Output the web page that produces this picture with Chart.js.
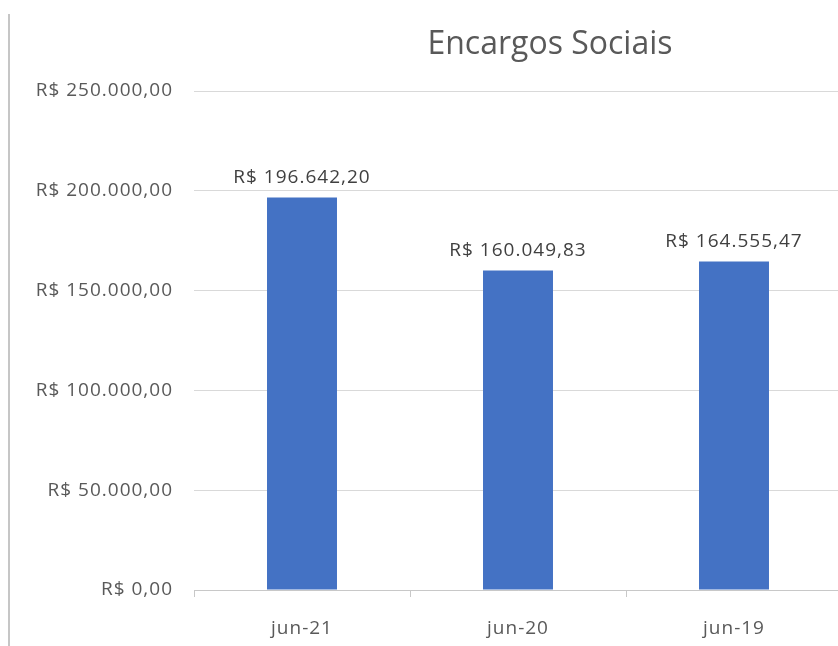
<!DOCTYPE html>
<html>
<head>
<meta charset="utf-8">
<script src="https://cdn.jsdelivr.net/npm/chart.js@4.4.0/dist/chart.umd.min.js"></script>
<style>
  html, body { margin: 0; padding: 0; background: #fff; overflow: hidden; }
  #wrap { position: relative; width: 838px; height: 646px; overflow: hidden; }
  #edge { position: absolute; left: 8px; top: 14px; width: 2px; height: 632px; background: #c6c6c6; }
  #myChart { position: absolute; left: 0; top: 0; }
</style>
</head>
<body>
<div id="wrap">
  <div id="edge"></div>
  <canvas id="myChart" width="842" height="646"></canvas>
</div>
<script>
let periods = ['jun-21', 'jun-20', 'jun-19'];
let encargos = [196642.20, 160049.83, 164555.47];
let yTickValues = [0, 50000, 100000, 150000, 200000, 250000];

const textColor = '#595959';
const smallFont = { family: '"Open Sans"', size: 19 };

function brl(v) {
    let parts = v.toFixed(2).split('.');
    let intPart = parts[0].replace(/\B(?=(\d{3})+(?!\d))/g, '.');
    return 'R$ ' + intPart + ',' + parts[1];
}

// Excel text is a bit wider than Open Sans, open it up slightly
const spacing = {
    id: 'spacing',
    beforeLayout(chart) { chart.ctx.letterSpacing = '1px'; },
    beforeDraw(chart) { chart.ctx.letterSpacing = '1px'; }
};

// title drawn where Excel puts it (centered on the whole chart area, not the canvas)
const titlePlugin = {
    id: 'titlePlugin',
    afterDraw(chart) {
        const ctx = chart.ctx;
        ctx.save();
        ctx.letterSpacing = '0px';
        ctx.fillStyle = textColor;
        ctx.font = '32px "Open Sans"';
        ctx.textAlign = 'center';
        ctx.textBaseline = 'alphabetic';
        ctx.fillText('Encargos Sociais', 550, 54);
        ctx.restore();
    }
};

// value labels over each bar
const barLabels = {
    id: 'barLabels',
    afterDatasetsDraw(chart) {
        const ctx = chart.ctx;
        const meta = chart.getDatasetMeta(0);
        ctx.save();
        ctx.letterSpacing = '1px';
        ctx.fillStyle = '#404040';
        ctx.font = '19px "Open Sans"';
        ctx.textAlign = 'center';
        ctx.textBaseline = 'middle';
        meta.data.forEach((bar, i) => {
            ctx.fillText(brl(encargos[i]), bar.x, bar.y - 20);
        });
        ctx.restore();
    }
};

let ctx = document.getElementById('myChart').getContext('2d');
let myChart = new Chart(ctx, {
    type: 'bar',
    data: {
        labels: periods,
        datasets: [{
            label: 'Encargos Sociais',
            data: encargos,
            backgroundColor: '#4472C4',
            borderWidth: 0,
            categoryPercentage: 1.0,
            barPercentage: 0.324
        }]
    },
    options: {
        responsive: false,
        animation: false,
        layout: { padding: { top: 91, right: 0, bottom: 0, left: 0 } },
        plugins: {
            legend: { display: false },
            title: { display: false },
            tooltip: { enabled: false }
        },
        scales: {
            x: {
                grid: {
                    offset: true,
                    drawOnChartArea: false,
                    tickLength: 7,
                    color: '#c8c8c8'
                },
                border: { display: true, color: '#c8c8c8' },
                ticks: { color: textColor, font: smallFont, padding: 20, maxRotation: 0 },
                afterFit(scale) { scale.height = 56; }
            },
            y: {
                min: 0,
                max: 250000,
                afterBuildTicks(scale) {
                    scale.ticks = yTickValues.map(v => ({ value: v }));
                },
                grid: { color: '#d9d9d9', drawTicks: false },
                border: { display: false },
                ticks: {
                    color: textColor,
                    font: smallFont,
                    padding: 21,
                    callback: v => brl(v)
                },
                afterFit(scale) { scale.width = 194; }
            }
        }
    },
    plugins: [spacing, titlePlugin, barLabels]
});
</script>
</body>
</html>
